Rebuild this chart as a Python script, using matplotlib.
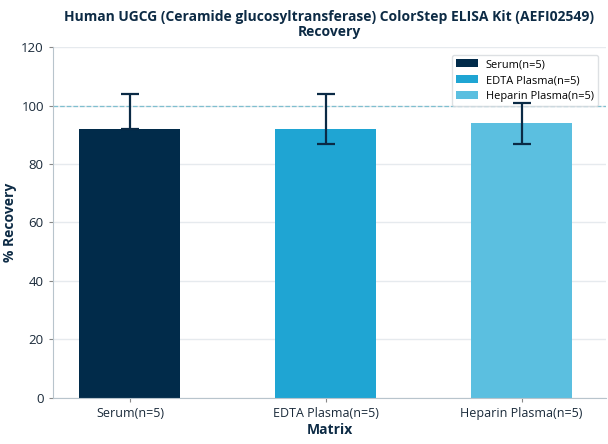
import matplotlib
matplotlib.use('Agg')
import matplotlib.pyplot as plt
from matplotlib.patches import Patch

# 數據
categories = ['Serum(n=5)', 'EDTA Plasma(n=5)', 'Heparin Plasma(n=5)']
recovery = [92, 92, 94]
err_low = [92, 87, 87]
err_high = [104, 104, 101]
colors = ['#012b4a', '#1fa5d3', '#5bbfe0']

plt.rcParams['font.family'] = ['Open Sans', 'DejaVu Sans']

fig = plt.figure(figsize=(6.08, 4.44), dpi=100)
ax = fig.add_axes([0.087, 0.104, 0.9095, 0.79])

x = list(range(len(categories)))
yerr = [[r - l for r, l in zip(recovery, err_low)], [h - r for r, h in zip(recovery, err_high)]]
ax.bar(x, recovery, width=0.515, color=colors, linewidth=0, zorder=2)
ax.errorbar(x, recovery, yerr=yerr, fmt='none', ecolor='#0a2a45', elinewidth=1.6,
            capsize=6.5, capthick=1.6, zorder=6)
ax.axhline(100, color='#7fbfcf', ls='--', lw=0.9, zorder=1)

ax.set_xlim(-0.393, 2.43)
ax.set_ylim(0, 120)
ax.set_yticks(range(0, 121, 20))
ax.set_xticks(x)
ax.set_xticklabels(categories, fontsize=9, color='#1a2a3a')
ax.tick_params(axis='y', labelsize=9.5, colors='#1a2a3a')
ax.tick_params(axis='both', color='#888888', length=3)
ax.grid(axis='y', color='#e6eaee', lw=1, zorder=0)
ax.set_axisbelow(True)
for s in ['top', 'right']:
    ax.spines[s].set_visible(False)
for s in ['left', 'bottom']:
    ax.spines[s].set_color('#b8c4cc')

ax.set_xlabel('Matrix', fontsize=10, fontweight='bold', color='#0d2b45', labelpad=2)
ax.set_ylabel('% Recovery', fontsize=10, fontweight='bold', color='#0d2b45', labelpad=3)
ax.set_title('Human UGCG (Ceramide glucosyltransferase) ColorStep ELISA Kit (AEFI02549)\nRecovery',
             fontsize=10, fontweight='bold', color='#0d2b45', pad=8, linespacing=1.1)
handles = [Patch(facecolor=c, label=lab) for c, lab in zip(colors, categories)]
leg = ax.legend(handles=handles, loc='upper right', fontsize=7.9, frameon=True, fancybox=True,
                handlelength=2.0, handleheight=0.7, handletextpad=0.7, borderpad=0.4,
                labelspacing=0.45, borderaxespad=0.7)
leg.get_frame().set_edgecolor('#d5d9dd')

plt.savefig('out.png', dpi=100)
